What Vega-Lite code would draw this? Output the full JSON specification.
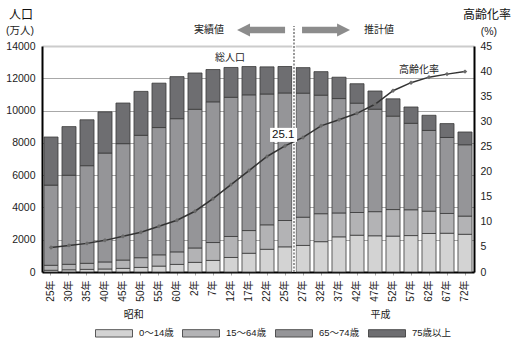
{
  "$schema": "https://vega.github.io/schema/vega-lite/v6.json",
  "width": 432,
  "height": 226,
  "autosize": "none",
  "padding": {"left": 42, "top": 46, "right": 37, "bottom": 73},
  "background": "white",
  "config": {"font": "Liberation Sans, Noto Sans CJK JP", "view": {"stroke": null}},
  "datasets": {
    "pop": [
      {"yr": "S25", "0〜14歳": 107, "15〜64歳": 309, "65〜74歳": 4966, "75歳以上": 2979, "rate": 4.9},
      {"yr": "S30", "0〜14歳": 139, "15〜64歳": 338, "65〜74歳": 5517, "75歳以上": 3012, "rate": 5.3},
      {"yr": "S35", "0〜14歳": 163, "15〜64歳": 376, "65〜74歳": 6047, "75歳以上": 2843, "rate": 5.7},
      {"yr": "S40", "0〜14歳": 187, "15〜64歳": 437, "65〜74歳": 6744, "75歳以上": 2553, "rate": 6.3},
      {"yr": "S45", "0〜14歳": 224, "15〜64歳": 516, "65〜74歳": 7212, "75歳以上": 2515, "rate": 7.1},
      {"yr": "S50", "0〜14歳": 284, "15〜64歳": 602, "65〜74歳": 7581, "75歳以上": 2722, "rate": 7.9},
      {"yr": "S55", "0〜14歳": 366, "15〜64歳": 699, "65〜74歳": 7883, "75歳以上": 2751, "rate": 9.1},
      {"yr": "S60", "0〜14歳": 471, "15〜64歳": 776, "65〜74歳": 8251, "75歳以上": 2603, "rate": 10.3},
      {"yr": "H2", "0〜14歳": 597, "15〜64歳": 892, "65〜74歳": 8590, "75歳以上": 2249, "rate": 12.1},
      {"yr": "H7", "0〜14歳": 717, "15〜64歳": 1109, "65〜74歳": 8716, "75歳以上": 2001, "rate": 14.6},
      {"yr": "H12", "0〜14歳": 900, "15〜64歳": 1301, "65〜74歳": 8622, "75歳以上": 1847, "rate": 17.4},
      {"yr": "H17", "0〜14歳": 1160, "15〜64歳": 1407, "65〜74歳": 8409, "75歳以上": 1752, "rate": 20.2},
      {"yr": "H22", "0〜14歳": 1407, "15〜64歳": 1517, "65〜74歳": 8103, "75歳以上": 1680, "rate": 23.0},
      {"yr": "H25", "0〜14歳": 1560, "15〜64歳": 1630, "65〜74歳": 7901, "75歳以上": 1639, "rate": 25.1},
      {"yr": "H27", "0〜14歳": 1646, "15〜64歳": 1749, "65〜74歳": 7682, "75歳以上": 1583, "rate": 26.8},
      {"yr": "H32", "0〜14歳": 1879, "15〜64歳": 1733, "65〜74歳": 7341, "75歳以上": 1457, "rate": 29.1},
      {"yr": "H37", "0〜14歳": 2179, "15〜64歳": 1479, "65〜74歳": 7085, "75歳以上": 1324, "rate": 30.3},
      {"yr": "H42", "0〜14歳": 2278, "15〜64歳": 1407, "65〜74歳": 6773, "75歳以上": 1204, "rate": 31.6},
      {"yr": "H47", "0〜14歳": 2245, "15〜64歳": 1495, "65〜74歳": 6343, "75歳以上": 1129, "rate": 33.4},
      {"yr": "H52", "0〜14歳": 2223, "15〜64歳": 1645, "65〜74歳": 5787, "75歳以上": 1073, "rate": 36.1},
      {"yr": "H57", "0〜14歳": 2257, "15〜64歳": 1600, "65〜74歳": 5353, "75歳以上": 1012, "rate": 37.7},
      {"yr": "H62", "0〜14歳": 2385, "15〜64歳": 1383, "65〜74歳": 5001, "75歳以上": 939, "rate": 38.8},
      {"yr": "H67", "0〜14歳": 2401, "15〜64歳": 1225, "65〜74歳": 4706, "75歳以上": 861, "rate": 39.4},
      {"yr": "H72", "0〜14歳": 2336, "15〜64歳": 1128, "65〜74歳": 4418, "75歳以上": 791, "rate": 39.9}
    ],
    "notes": [
      {"k": "t1", "t": "人口", "u": -1.17, "v": 51.2},
      {"k": "t1", "t": "高齢化率", "u": 24.72, "v": 51.2},
      {"k": "t2", "t": "(万人)", "u": -1.22, "v": 48.0},
      {"k": "t2", "t": "(%)", "u": 24.83, "v": 47.8},
      {"k": "t3", "t": "実績値", "u": 9.28, "v": 48.2},
      {"k": "t3", "t": "推計値", "u": 18.72, "v": 48.2},
      {"k": "t3", "t": "総人口", "u": 10.44, "v": 42.6},
      {"k": "t3", "t": "高齢化率", "u": 20.94, "v": 40.2},
      {"k": "t3", "t": "昭和", "u": 5.1, "v": -8.56},
      {"k": "t3", "t": "平成", "u": 18.8, "v": -8.56},
      {"k": "t4", "t": "25.1", "u": 13.4, "v": 27.3}
    ],
    "divider": [{"u": 14, "v": 0, "v2": 49}],
    "box": [{"u": 12.67, "u2": 14.17, "v": 25.9, "v2": 28.7}],
    "arrowL": [{"u": 12.17, "v": 48.2}],
    "arrowR": [{"u": 15.78, "v": 48.2}]
  },
  "layer": [
    {
      "data": {"name": "pop"},
      "transform": [{"fold": ["0〜14歳", "15〜64歳", "65〜74歳", "75歳以上"], "as": ["grp", "val"]}],
      "mark": {"type": "bar", "stroke": "#3a3a3a", "strokeWidth": 0.8},
      "encoding": {
        "x": {
          "field": "yr", "type": "nominal", "sort": null,
          "scale": {"paddingInner": 0.22, "paddingOuter": 0.11},
          "axis": {"title": null, "labelAngle": -90, "labelFontSize": 10, "labelPadding": 5, "labelColor": "#222",
                   "labelExpr": "slice(datum.label, 1) + '年'", "domainColor": "#000", "domainWidth": 2,
                   "ticks": true, "tickSize": 3, "tickColor": "#aaa"}
        },
        "y": {
          "field": "val", "type": "quantitative", "stack": "zero",
          "scale": {"domain": [0, 14000]},
          "axis": {"title": null, "values": [0, 2000, 4000, 6000, 8000, 10000, 12000, 14000], "format": "d",
                   "grid": true,
                   "gridColor": {"condition": {"test": "datum.value === 14000", "value": "#cccccc"}, "value": "#a8a8a8"},
                   "gridWidth": {"condition": {"test": "datum.value === 14000", "value": 2}, "value": 1},
                   "ticks": false, "domainColor": "#000", "domainWidth": 2, "labelFontSize": 10.5, "labelPadding": 7, "labelColor": "#222"}
        },
        "color": {
          "field": "grp", "type": "nominal",
          "scale": {"domain": ["0〜14歳", "15〜64歳", "65〜74歳", "75歳以上"], "range": ["#d3d3d3", "#b3b3b5", "#959598", "#6e6e71"]},
          "legend": {"orient": "none", "legendX": 53, "legendY": 268, "direction": "horizontal", "title": null,
                     "symbolType": "M-1,-0.2H1V0.2H-1Z", "symbolSize": 1369, "symbolStrokeColor": "#333", "symbolStrokeWidth": 0.8,
                     "symbolOpacity": 1, "labelFontSize": 9.5, "labelOffset": 6, "columnPadding": 6, "labelColor": "#222"}
        },
        "order": {"field": "grp", "sort": "ascending"}
      }
    },
    {
      "data": {"name": "divider"},
      "encoding": {
        "x": {"field": "u", "type": "quantitative", "scale": {"domain": [0, 24]}, "axis": null},
        "y": {"field": "v", "type": "quantitative", "scale": {"domain": [0, 45]}, "axis": null},
        "y2": {"field": "v2"}
      },
      "layer": [
        {"mark": {"type": "rule", "color": "#ffffff", "strokeWidth": 3.5}},
        {"mark": {"type": "rule", "color": "#555555", "strokeWidth": 1.2, "strokeDash": [2, 1.5]}}
      ]
    },
    {
      "data": {"name": "pop"},
      "encoding": {
        "x": {"field": "yr", "type": "nominal", "sort": null, "axis": null},
        "y": {"field": "rate", "type": "quantitative", "scale": {"domain": [0, 45]},
              "axis": {"orient": "right", "title": null, "values": [0, 5, 10, 15, 20, 25, 30, 35, 40, 45], "grid": false, "ticks": false,
                       "domainColor": "#000", "domainWidth": 2, "labelFontSize": 10.5, "labelPadding": 6, "labelColor": "#222"}}
      },
      "layer": [
        {"mark": {"type": "line", "color": "#333333", "strokeWidth": 1.5}},
        {"mark": {"type": "point", "shape": "diamond", "filled": true, "color": "#6a6a6a", "size": 20, "opacity": 1}}
      ]
    },
    {
      "encoding": {
        "x": {"field": "u", "type": "quantitative", "scale": {"domain": [0, 24]}, "axis": null},
        "y": {"field": "v", "type": "quantitative", "scale": {"domain": [0, 45]}, "axis": null}
      },
      "layer": [
        {"data": {"name": "box"}, "mark": {"type": "rect", "fill": "#ffffff"},
         "encoding": {"x2": {"field": "u2"}, "y2": {"field": "v2"}}},
        {"data": {"name": "arrowL"}, "mark": {"type": "point", "shape": "M-1,0L-0.46,-0.27V-0.135H1V0.135H-0.46V0.27Z", "size": 2304, "filled": true, "color": "#8c8c8c", "opacity": 1}},
        {"data": {"name": "arrowR"}, "mark": {"type": "point", "shape": "M1,0L0.46,-0.27V-0.135H-1V0.135H0.46V0.27Z", "size": 2304, "filled": true, "color": "#8c8c8c", "opacity": 1}},
        {"data": {"name": "notes"}, "transform": [{"filter": "datum.k === 't1'"}],
         "mark": {"type": "text", "fontSize": 12, "color": "#111", "align": "center", "baseline": "middle"},
         "encoding": {"text": {"field": "t"}}},
        {"data": {"name": "notes"}, "transform": [{"filter": "datum.k === 't2'"}],
         "mark": {"type": "text", "fontSize": 10.5, "color": "#222", "align": "center", "baseline": "middle"},
         "encoding": {"text": {"field": "t"}}},
        {"data": {"name": "notes"}, "transform": [{"filter": "datum.k === 't3'"}],
         "mark": {"type": "text", "fontSize": 10, "color": "#222", "align": "center", "baseline": "middle"},
         "encoding": {"text": {"field": "t"}}},
        {"data": {"name": "notes"}, "transform": [{"filter": "datum.k === 't4'"}],
         "mark": {"type": "text", "fontSize": 11.5, "color": "#111", "align": "center", "baseline": "middle"},
         "encoding": {"text": {"field": "t"}}}
      ]
    }
  ],
  "resolve": {"scale": {"x": "independent", "y": "independent"}}
}
